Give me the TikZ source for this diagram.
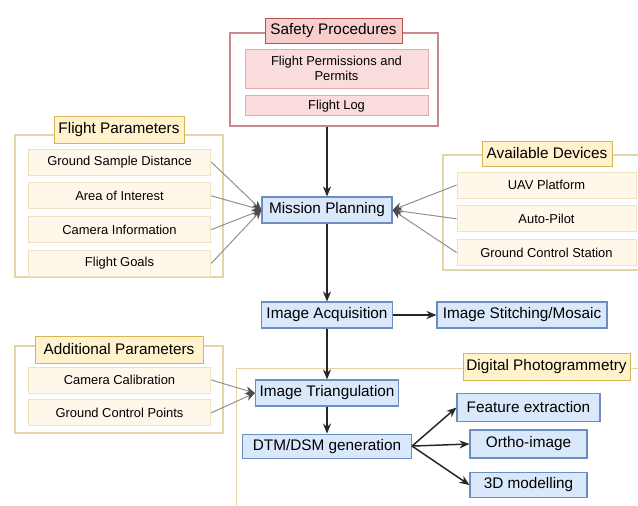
\documentclass[tikz,border=0pt]{standalone}
\usepackage{fontspec}
\setmainfont{Liberation Sans}
\usepackage{xcolor}
\usetikzlibrary{positioning, arrows.meta, calc}
\definecolor{procFill}{HTML}{DAE8FC}
\definecolor{procEdge}{HTML}{6C8EBF}
\definecolor{titleFill}{HTML}{FFF2CC}
\definecolor{titleEdge}{HTML}{D6B656}
\definecolor{paramFill}{HTML}{FFF8EA}
\definecolor{paramEdge}{HTML}{EFE2C0}
\definecolor{groupEdge}{HTML}{E2D6A8}
\definecolor{safeFill}{HTML}{F8CECC}
\definecolor{safeEdge}{HTML}{B85450}
\definecolor{safeInFill}{HTML}{FADCDC}
\definecolor{safeInEdge}{HTML}{E5A9AB}
\definecolor{safeGroup}{HTML}{C98A8D}
\definecolor{feedColor}{HTML}{8C8C8C}

\tikzset{
    procbox/.style={
        draw=procEdge,
        fill=procFill,
        line width=0.8pt,
        font=\fontsize{11.5}{13}\selectfont,
        inner sep=1pt,
        minimum height=19.5pt
    },
    grptitle/.style={
        draw=titleEdge,
        fill=titleFill,
        line width=0.6pt,
        font=\fontsize{11.5}{13}\selectfont,
        inner sep=1pt,
        minimum height=19.5pt
    },
    grpbox/.style={
        draw=groupEdge,
        fill=white,
        line width=0.8pt
    },
    parambox/.style={
        draw=paramEdge,
        fill=paramFill,
        line width=0.6pt,
        font=\fontsize{9.7}{11.5}\selectfont,
        inner sep=1pt,
        minimum width=137pt,
        minimum height=19.5pt
    },
    safebox/.style={
        draw=safeInEdge,
        fill=safeInFill,
        line width=0.6pt,
        font=\fontsize{9.7}{11.5}\selectfont,
        align=center,
        inner sep=1pt,
        minimum width=137.25pt
    },
    flow/.style={
        -{Stealth[length=7.5pt, width=6pt]},
        line width=1.1pt,
        draw=black!85
    },
    feed/.style={
        -{Stealth[length=7pt, width=6pt, color=black!70]},
        line width=0.7pt,
        draw=feedColor
    }
}

\begin{document}
\begin{tikzpicture}[x=0.75pt, y=-0.75pt]
    \path[use as bounding box, fill=white] (0,0) rectangle (638,506);

    % safety procedures
    \node[grpbox, draw=safeGroup, minimum width=156pt, minimum height=69.75pt] (safety) at (334,79.5) {};
    \node[grptitle, draw=safeEdge, fill=safeFill, minimum width=102.75pt, minimum height=18.75pt] (safetyTitle) at (333.5,30.5) {Safety Procedures};
    \node[safebox, minimum height=29.25pt] (permits) at (336.5,68.5) {Flight Permissions and\\Permits};
    \node[safebox, minimum height=15pt, below=5.25pt of permits] (flightLog) {Flight Log};

    % main chain
    \node[procbox, minimum width=97.5pt] (mission) at (327,210) {Mission Planning};
    \node[procbox, minimum width=98.25pt] (acquisition) at (327,315) {Image Acquisition};
    \node[procbox, minimum width=127.5pt] (stitching) at (522,315) {Image Stitching/Mosaic};

    % flight parameters
    \node[grpbox, minimum width=156pt, minimum height=106.5pt] (flightGrp) at (119,206) {};
    \node[grptitle, minimum width=97.5pt, minimum height=20.25pt] (flightTitle) at (119,129.5) {Flight Parameters};
    \node[parambox] (gsd) at (119.5,162) {Ground Sample Distance};
    \node[parambox, below=5.25pt of gsd] (aoi) {Area of Interest};
    \node[parambox, below=5.25pt of aoi] (camInfo) {Camera Information};
    \node[parambox, below=5.25pt of camInfo] (goals) {Flight Goals};

    % available devices
    \node[grpbox, minimum width=156pt, minimum height=86.25pt] (deviceGrp) at (547,212.5) {};
    \node[grptitle, minimum width=97.5pt, minimum height=18.75pt] (deviceTitle) at (547,153.5) {Available Devices};
    \node[parambox, minimum width=134.25pt] (uav) at (546.5,185) {UAV Platform};
    \node[parambox, minimum width=134.25pt, below=5.25pt of uav] (autopilot) {Auto-Pilot};
    \node[parambox, minimum width=134.25pt, below=5.25pt of autopilot] (gcs) {Ground Control Station};

    % additional parameters
    \node[grpbox, minimum width=156pt, minimum height=65.25pt] (addGrp) at (119,389.5) {};
    \node[grptitle, minimum width=126pt, minimum height=20.25pt] (addTitle) at (119,349.5) {Additional Parameters};
    \node[parambox] (calib) at (119.5,380) {Camera Calibration};
    \node[parambox, below=4.5pt of calib] (gcp) {Ground Control Points};

    % digital photogrammetry
    \node[grpbox, minimum width=310.5pt, minimum height=110pt, anchor=north west] (photoGrp) at (236,368) {};
    \node[grptitle, minimum width=125.25pt, minimum height=20.25pt] (photoTitle) at (546.5,366.5) {Digital Photogrammetry};
    \node[procbox, minimum width=107.25pt] (triangulation) at (327,393) {Image Triangulation};
    \node[procbox, minimum width=126.75pt, minimum height=18pt, below=20.25pt of triangulation] (dtm) {DTM/DSM generation};
    \node[procbox, minimum width=107.25pt, minimum height=20.5pt] (feature) at (528.5,407.5) {Feature extraction};
    \node[procbox, minimum width=87.75pt, minimum height=21pt] (ortho) at (528.5,444) {Ortho-image};
    \node[procbox, minimum width=87.75pt, minimum height=18.75pt] (model) at (528.5,485) {3D modelling};

    % connectors
    \draw[flow] (safety.south -| mission.north) -- (mission.north);
    \draw[flow] (mission) -- (acquisition);
    \draw[flow] (acquisition) -- (stitching);
    \draw[flow] (acquisition) -- (triangulation);
    \draw[flow] (triangulation) -- (dtm);
    \draw[flow] (dtm.east) -- (feature.west);
    \draw[flow] (dtm.east) -- (ortho.west);
    \draw[flow] (dtm.east) -- (model.west);

    \foreach \p in {gsd, aoi, camInfo, goals}
        \draw[feed] (\p.east) -- (mission.west);
    \foreach \d in {uav, autopilot, gcs}
        \draw[feed] (\d.west) -- (mission.east);
    \foreach \a in {calib, gcp}
        \draw[feed] (\a.east) -- (triangulation.west);
\end{tikzpicture}
\end{document}
